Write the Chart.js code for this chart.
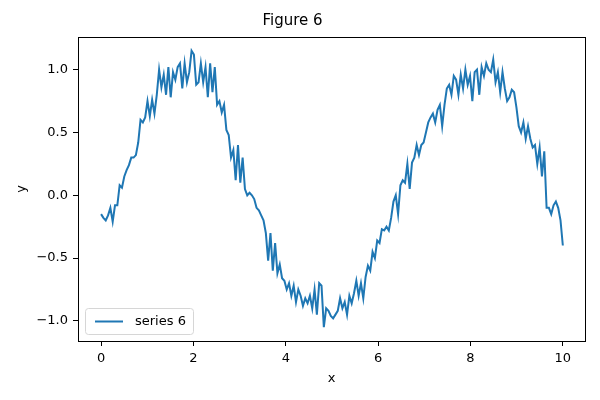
<!DOCTYPE html>
<html>
<head>
<meta charset="utf-8">
<script src="https://cdn.jsdelivr.net/npm/chart.js@4.4.1/dist/chart.umd.min.js"></script>
<style>
  html, body { margin: 0; padding: 0; background: #fff; }
</style>
</head>
<body>
<canvas id="fig" width="600" height="400"></canvas>
<script>
// values, 200 samples over 0..10
const yValues = [
  -0.15, -0.18, -0.2, -0.16, -0.1, -0.21, -0.08, -0.08, 0.08, 0.06,
  0.15, 0.2, 0.24, 0.3, 0.3, 0.32, 0.42, 0.6, 0.58, 0.62,
  0.75, 0.63, 0.76, 0.65, 0.8, 1.0, 0.86, 0.96, 0.8, 1.02,
  0.78, 0.98, 0.92, 1.02, 1.05, 0.85, 1.05, 0.9, 0.98, 1.15,
  1.12, 0.88, 0.9, 1.05, 0.9, 1.02, 0.78, 1.05, 0.82, 1.02,
  0.72, 0.75, 0.66, 0.72, 0.52, 0.48, 0.3, 0.36, 0.12, 0.4,
  0.1, 0.3, 0.05, 0.0, 0.02, 0.0, -0.03, -0.1, -0.12, -0.16,
  -0.2, -0.3, -0.52, -0.3, -0.6, -0.38, -0.62, -0.55, -0.66, -0.68,
  -0.75, -0.7, -0.8, -0.72, -0.85, -0.75, -0.8, -0.88, -0.82, -0.86,
  -0.8, -0.9, -0.75, -0.95, -0.7, -0.72, -1.05, -0.9, -0.92, -0.96,
  -0.98, -0.95, -0.92, -0.82, -0.9, -0.85, -0.95, -0.8, -0.86, -0.78,
  -0.68, -0.8, -0.7, -0.82, -0.65, -0.56, -0.6, -0.45, -0.5, -0.36,
  -0.38, -0.27, -0.28, -0.25, -0.28, -0.18, -0.05, 0.0, -0.15, 0.08,
  0.12, 0.1, 0.25, 0.05, 0.26, 0.3, 0.4, 0.32, 0.4, 0.42,
  0.5, 0.58, 0.62, 0.65, 0.58, 0.68, 0.72, 0.55, 0.72, 0.85,
  0.88, 0.8, 0.95, 0.92, 0.8, 0.96, 0.85, 1.0, 0.88, 0.95,
  0.75, 0.98, 1.0, 0.8, 1.02, 0.95, 1.05, 1.0, 0.98, 1.08,
  0.9, 0.98, 0.82, 0.98, 0.85, 0.75, 0.78, 0.84, 0.82, 0.7,
  0.55, 0.5, 0.58, 0.45, 0.55, 0.45, 0.38, 0.4, 0.25, 0.38,
  0.15, 0.35, -0.1, -0.1, -0.15, -0.08, -0.05, -0.1, -0.2, -0.4
];
const xStart = 0;
const xEnd = 10;
const xTicks = [0, 2, 4, 6, 8, 10];
const yTicks = [-1.0, -0.5, 0.0, 0.5, 1.0];
const seriesName = 'series 6';

const points = yValues.map((v, i) => ({
  x: xStart + (xEnd - xStart) * i / (yValues.length - 1),
  y: v
}));

const FONT = 'DejaVu Sans, sans-serif';

// all four spines + legend box in lower left
const frame = {
  id: 'frame',
  afterDraw(chart) {
    const { ctx, chartArea: a } = chart;
    ctx.save();
    ctx.strokeStyle = '#000';
    ctx.lineWidth = 1;
    ctx.strokeRect(Math.round(a.left) + 0.5, Math.round(a.top) + 0.5,
      Math.round(a.right - a.left), Math.round(a.bottom - a.top));

    // legend
    const bx = Math.round(a.left) + 7, by = Math.round(a.bottom) - 33, bw = 108, bh = 26;
    ctx.fillStyle = 'rgba(255,255,255,0.8)';
    ctx.strokeStyle = '#d6d6d6';
    ctx.beginPath();
    ctx.roundRect(bx + 0.5, by + 0.5, bw, bh, 3);
    ctx.fill();
    ctx.stroke();
    ctx.strokeStyle = '#1f77b4';
    ctx.lineWidth = 2;
    ctx.beginPath();
    ctx.moveTo(bx + 10, by + 13.5);
    ctx.lineTo(bx + 38, by + 13.5);
    ctx.stroke();
    ctx.fillStyle = '#000';
    ctx.font = '13px ' + FONT;
    ctx.textBaseline = 'middle';
    ctx.fillText(seriesName, bx + 50, by + 14);
    ctx.restore();
  }
};

new Chart(document.getElementById('fig'), {
  type: 'line',
  data: {
    datasets: [{
      label: seriesName,
      data: points,
      borderColor: '#1f77b4',
      borderWidth: 2,
      pointRadius: 0,
      tension: 0,
      fill: false
    }]
  },
  options: {
    responsive: false,
    animation: false,
    layout: { padding: { left: 0, right: 15, top: 0, bottom: 0 } },
    plugins: {
      legend: { display: false },
      tooltip: { enabled: false },
      title: {
        display: true,
        text: 'Figure 6',
        color: '#000',
        font: { family: FONT, size: 15, weight: 'normal' },
        padding: { top: 12, bottom: 7 }
      }
    },
    scales: {
      x: {
        type: 'linear',
        min: -0.5,
        max: 10.48,
        afterBuildTicks: s => { s.ticks = xTicks.map(v => ({ value: v })); },
        afterFit: s => { s.height = 59; },
        ticks: {
          color: '#000',
          font: { family: FONT, size: 13 },
          padding: 5,
          maxRotation: 0,
          callback: v => String(v)
        },
        grid: { drawOnChartArea: false, drawTicks: true, tickLength: 5, color: '#000' },
        border: { display: false },
        title: { display: true, text: 'x', color: '#000', font: { family: FONT, size: 13 }, padding: { top: 0, bottom: 14 } }
      },
      y: {
        type: 'linear',
        min: -1.16,
        max: 1.26,
        afterBuildTicks: s => { s.ticks = yTicks.map(v => ({ value: v })); },
        afterFit: s => { s.width = 78; },
        ticks: {
          color: '#000',
          font: { family: FONT, size: 13 },
          padding: 5,
          callback: v => v.toFixed(1).replace('-', '\u2212')
        },
        grid: { drawOnChartArea: false, drawTicks: true, tickLength: 5, color: '#000' },
        border: { display: false },
        title: { display: true, text: 'y', color: '#000', font: { family: FONT, size: 13 }, padding: { top: 14, bottom: 0 } }
      }
    }
  },
  plugins: [frame]
});
</script>
</body>
</html>
